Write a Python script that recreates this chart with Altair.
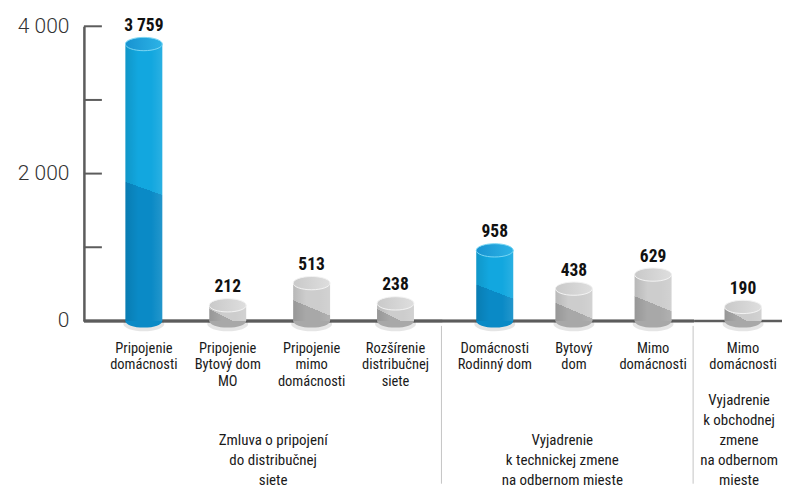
import altair as alt
import pandas as pd

# ---------------- data ----------------
categories = [
    "Pripojenie\ndomácnosti",
    "Pripojenie\nBytový dom\nMO",
    "Pripojenie\nmimo\ndomácnosti",
    "Rozšírenie\ndistribučnej\nsiete",
    "Domácnosti\nRodinný dom",
    "Bytový\ndom",
    "Mimo\ndomácnosti",
    "Mimo\ndomácnosti",
]
values = [3759, 212, 513, 238, 958, 438, 629, 190]
group_of_bar = [0, 0, 0, 0, 1, 1, 1, 2]
highlighted = [True, False, False, False, True, False, False, False]
group_labels = [
    "Zmluva o pripojení\ndo distribučnej\nsiete",
    "Vyjadrenie\nk technickej zmene\nna odbernom mieste",
    "Vyjadrenie\nk obchodnej\nzmene\nna odbernom\nmieste",
]
y_tick_values = [1000, 2000, 3000, 4000]
y_label_values = [0, 2000, 4000]

# ---------------- style ----------------
FONT = "Roboto Condensed, Liberation Sans Narrow, Roboto"
AXIS_FONT = "Roboto"
PLOT_H = 295
BAR_W = 37
Y_MAX = 4000

BLUE = dict(light="#12a7df", dark="#0a8ac6", top0="#1893d1", top1="#2cb3e6", rim="#7ad6f3")
GRAY = dict(light="#cdcdcd", dark="#a8a8a8", top0="#c9c9c9", top1="#dedede", rim="#f3f3f3")


def body_gradient(v, pal):
    h = max(v / Y_MAX * PLOT_H, 1.0)
    s = 0.35 + 2.5 / h            # pixel slope of the split line
    f = min(0.5 + 6.0 / h, 0.85)  # where the split crosses the centre
    k = s * BAR_W / h
    return {
        "gradient": "linear",
        "x1": 0.5 + 0.5 * k, "y1": f - 0.5,
        "x2": 0.5 - 0.5 * k, "y2": f + 0.5,
        "stops": [
            {"offset": 0, "color": pal["light"]},
            {"offset": 0.5, "color": pal["light"]},
            {"offset": 0.5, "color": pal["dark"]},
            {"offset": 1, "color": pal["dark"]},
        ],
    }


def top_gradient(pal):
    return {
        "gradient": "linear", "x1": 0, "y1": 0, "x2": 1, "y2": 0,
        "stops": [{"offset": 0, "color": pal["top0"]}, {"offset": 1, "color": pal["top1"]}],
    }


SHADE = {
    "gradient": "linear", "x1": 0, "y1": 0, "x2": 1, "y2": 0,
    "stops": [
        {"offset": 0, "color": "rgba(0,0,0,0.10)"},
        {"offset": 0.35, "color": "rgba(0,0,0,0)"},
        {"offset": 0.7, "color": "rgba(255,255,255,0)"},
        {"offset": 1, "color": "rgba(255,255,255,0.10)"},
    ],
}

rows = []
for i, (c, v, g, hl) in enumerate(zip(categories, values, group_of_bar, highlighted)):
    pal = BLUE if hl else GRAY
    rows.append({
        "key": f"b{i}", "cat": c, "value": v, "group": g,
        "label": f"{v:,}".replace(",", " "),
        "body": body_gradient(v, pal), "top": top_gradient(pal),
        "bottom": pal["dark"], "rim": pal["rim"],
    })

ELLIPSE = "M-1,0A1,0.36,0,1,1,1,0A1,0.36,0,1,1,-1,0Z"

yscale = alt.Scale(domain=[0, Y_MAX], nice=False, zero=True)
yaxis_main = alt.Axis(
    values=y_label_values,
    labelExpr="replace(format(datum.value, ','), ',', ' ')",
    labelFont=AXIS_FONT, labelFontSize=21, labelFontWeight=300, labelColor="#333333",
    labelPadding=15, ticks=False, grid=False, title=None,
    domainColor="#5c5c5c", domainWidth=2.5,
)

panels_cfg = [
    dict(width=359, pi=0.56, po=0.417, align=0.593, gx=189.5, gy=407, ext=0),
    dict(width=252, pi=0.533, po=0.356, align=0.60, gx=120, gy=407, ext=0),
    dict(width=86, pi=0.0, po=0.662, align=0.622, gx=45, gy=367, ext=2),
]


def make_panel(idx):
    cfg = panels_cfg[idx]
    df = pd.DataFrame([r for r in rows if r["group"] == idx])
    xscale = alt.Scale(paddingInner=cfg["pi"], paddingOuter=cfg["po"], align=cfg["align"])
    X = alt.X("key:N", scale=xscale, axis=None, sort=None)
    yax = yaxis_main if idx == 0 else None

    def Yv():
        return alt.Y("value:Q", scale=yscale, axis=yax)

    def Y0():
        return alt.Y(datum=0, scale=yscale, axis=yax)

    base = alt.Chart(df)
    layers = []
    # baseline
    layers.append(base.mark_rule(color="#5c5c5c", strokeWidth=2.5).encode(
        y=Y0(), x=alt.value(0), x2=alt.value(cfg["width"] + cfg["ext"])))
    # shadow
    layers.append(base.mark_point(shape=ELLIPSE, size=(BAR_W + 4) ** 2, filled=True,
                                  color="#000000", opacity=0.10, yOffset=3).encode(x=X, y=Y0()))
    # bottom ellipse
    layers.append(base.mark_point(shape=ELLIPSE, size=BAR_W ** 2, filled=True, opacity=1,
                                  strokeWidth=0).encode(
        x=X, y=Y0(), fill=alt.Fill("bottom:N", scale=None)))
    # body
    layers.append(base.mark_bar().encode(
        x=X, y=Yv(), y2=alt.Y2(datum=0), fill=alt.Fill("body:N", scale=None)))
    # horizontal shading on the body
    layers.append(base.mark_bar(fill=SHADE).encode(x=X, y=Yv(), y2=alt.Y2(datum=0)))
    # top ellipse
    layers.append(base.mark_point(shape=ELLIPSE, size=BAR_W ** 2, filled=True, opacity=1,
                                  strokeWidth=1).encode(
        x=X, y=Yv(), fill=alt.Fill("top:N", scale=None), stroke=alt.Stroke("rim:N", scale=None)))
    # value labels
    layers.append(base.mark_text(dy=-13, baseline="alphabetic", font=FONT, fontSize=17.5,
                                 fontWeight="bold", color="#111111").encode(
        x=X, y=Yv(), text="label:N"))
    # category labels
    layers.append(base.mark_text(baseline="top", lineBreak="\n", font=FONT, fontSize=14.5,
                                 lineHeight=16.5, color="#1a1a1a").encode(
        x=X, y=alt.value(316), text="cat:N"))
    # group label
    gdf = pd.DataFrame({"glabel": [group_labels[idx]]})
    layers.append(alt.Chart(gdf).mark_text(baseline="top", lineBreak="\n", font=FONT, fontSize=15,
                                           lineHeight=20, color="#1a1a1a").encode(
        x=alt.value(cfg["gx"]), y=alt.value(cfg["gy"]), text="glabel:N"))
    if idx == 0:
        tdf = pd.DataFrame({"t": y_tick_values})
        layers.append(alt.Chart(tdf).mark_rule(color="#5c5c5c", strokeWidth=2).encode(
            y=alt.Y("t:Q", scale=yscale, axis=yax), x=alt.value(0), x2=alt.value(18)))
    else:
        sdf = pd.DataFrame({"s": [0]})
        layers.append(alt.Chart(sdf).mark_rule(color="#c4c4c4", strokeWidth=1).encode(
            x=alt.value(-1), y=alt.value(300), y2=alt.value(458)))
    return alt.layer(*layers).properties(width=cfg["width"], height=PLOT_H)


chart = alt.hconcat(make_panel(0), make_panel(1), make_panel(2), spacing=0, bounds="flush").properties(
    padding={"left": 9, "top": 7, "right": 0, "bottom": 0}
).configure_view(stroke=None)

chart.save("out.html", embed_options={"renderer": "svg", "actions": False})
